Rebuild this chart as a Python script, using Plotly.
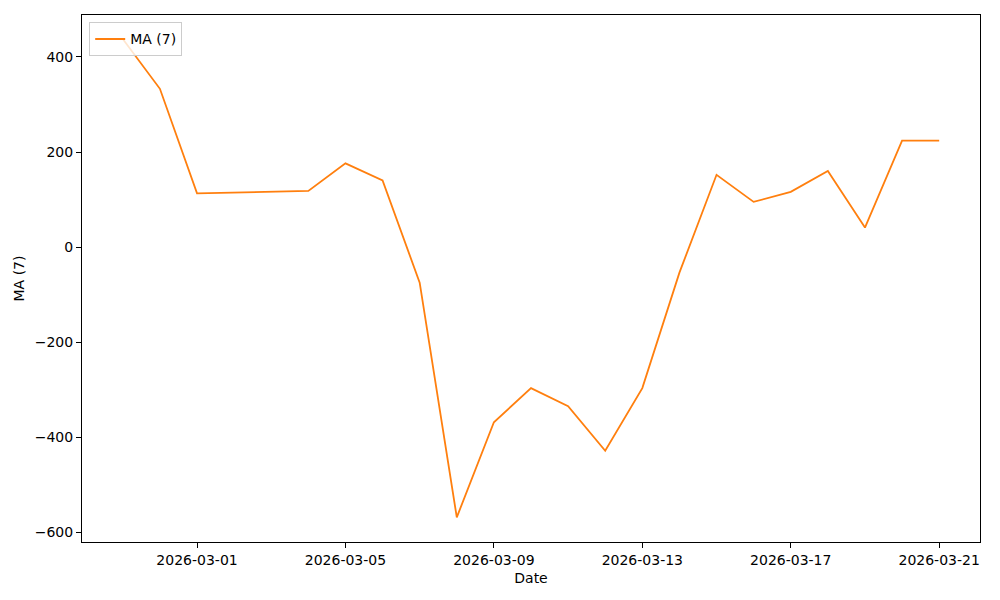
import plotly.graph_objects as go

dates = ["2026-02-27", "2026-02-28", "2026-03-01", "2026-03-04", "2026-03-05", "2026-03-06",
         "2026-03-07", "2026-03-08", "2026-03-09", "2026-03-10", "2026-03-11", "2026-03-12",
         "2026-03-13", "2026-03-14", "2026-03-15", "2026-03-16", "2026-03-17", "2026-03-18",
         "2026-03-19", "2026-03-20", "2026-03-21"]
ma7 = [438, 333, 113, 118, 176, 140,
       -75, -569, -369, -297, -335, -429,
       -297, -54, 152, 95, 116, 160,
       41, 224, 224]

tick_dates = ["2026-03-01", "2026-03-05", "2026-03-09", "2026-03-13", "2026-03-17", "2026-03-21"]
y_ticks = [-600, -400, -200, 0, 200, 400]
y_labels = ["−600", "−400", "−200", "0", "200", "400"]

fig = go.Figure()
fig.add_trace(go.Scatter(x=dates, y=ma7, mode="lines", name="MA (7)",
                         line=dict(color="#ff7f0e", width=1.8)))

axis_common = dict(showline=True, linecolor="black", linewidth=1, mirror=True,
                   ticks="outside", ticklen=5, tickcolor="black", showgrid=False,
                   zeroline=False, tickfont=dict(size=14, color="black"),
                   automargin=False)

fig.update_layout(
    width=992, height=592,
    margin=dict(l=74, r=20, t=7, b=58),
    paper_bgcolor="white", plot_bgcolor="white",
    font=dict(family="DejaVu Sans", size=14, color="black"),
    xaxis=dict(range=["2026-02-25 21:36", "2026-03-22 02:24"],
               tickvals=tick_dates, tickformat="%Y-%m-%d",
               title=dict(text="Date", font=dict(size=14), standoff=6),
               **axis_common),
    yaxis=dict(range=[-621, 488.4], tickvals=y_ticks, ticktext=y_labels,
               title=dict(text="MA (7)", font=dict(size=14), standoff=6),
               **axis_common),
    legend=dict(x=0.008, y=0.986, xanchor="left", yanchor="top",
                bordercolor="#cccccc", borderwidth=1, bgcolor="rgba(255,255,255,0.8)",
                font=dict(size=14)),
    showlegend=True,
)

fig.write_html("out.html")
